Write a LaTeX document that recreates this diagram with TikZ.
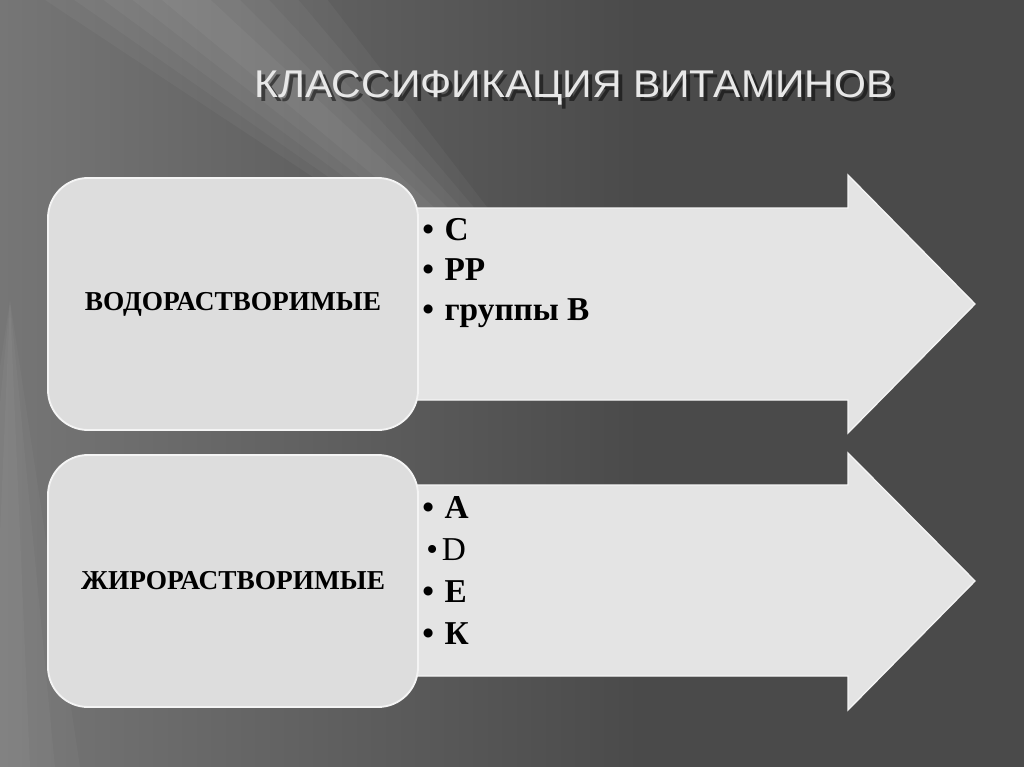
\documentclass[tikz,border=0pt]{standalone}
\usepackage{fontspec}
\setmainfont{Liberation Serif}
\newfontfamily\titlefont{Liberation Sans}
\definecolor{bgdark}{HTML}{4A4A4A}
\definecolor{bgmid}{HTML}{767676}
\definecolor{boxfill}{HTML}{DDDDDD}
\definecolor{arrowfill}{HTML}{E4E4E4}
\definecolor{rimwhite}{HTML}{F4F4F4}
\tikzset{
  catbox/.style={draw=rimwhite,line width=1.4pt,fill=boxfill,rounded corners=30pt,
    minimum width=277.5pt,minimum height=189pt,font=\bfseries\fontsize{20.5}{24}\selectfont},
  arrowbody/.style={fill=arrowfill,draw=rimwhite,line width=1pt},
  item/.style={anchor=base west,inner sep=0pt,font=\bfseries\fontsize{25}{28}\selectfont},
  titletext/.style={font=\titlefont\fontsize{29}{34}\selectfont,xscale=1.06}
}
\newcommand{\bul}{\textbullet\hspace{8pt}}
\begin{document}
\begin{tikzpicture}[x=0.75pt,y=-0.75pt]
  \useasboundingbox (0,0) rectangle (1024,767);
  % background
  \fill[bgdark] (0,0) rectangle (1024,767);
  \shade[left color=bgmid,right color=bgdark] (0,0) rectangle (640,767);
  \foreach \w in {25,55,85,115,145}
    \fill[white,opacity=0.04] (175-\w,-10) -- (175+\w,-10) -- (620,380) -- cycle;
  \foreach \w in {20,45,70}
    \fill[white,opacity=0.03] (10,300) -- (10+\w,767) -- (10-\w,767) -- cycle;
  % title with shadow
  \node[titletext,text=black,opacity=0.5] at (578,92) {КЛАССИФИКАЦИЯ ВИТАМИНОВ};
  \node[titletext,text=rimwhite!90!gray] (title) at (574,88) {КЛАССИФИКАЦИЯ ВИТАМИНОВ};
  % arrows
  \draw[arrowbody] (400,208) -- (848,208) -- (848,175) -- (975,304) -- (848,433) -- (848,400) -- (400,400) -- cycle;
  \draw[arrowbody] (400,485) -- (848,485) -- (848,453) -- (975,581) -- (848,710) -- (848,676) -- (400,676) -- cycle;
  % categories
  \node[catbox] (water) at (233,304) {ВОДОРАСТВОРИМЫЕ};
  \node[catbox] (fat) at (233,581) {ЖИРОРАСТВОРИМЫЕ};
  % vitamins
  \node[item] (vc) at (422,240) {\bul С};
  \node[item] (vpp) at (422,280) {\bul РР};
  \node[item] (vb) at (422,320) {\bul группы В};
  \node[item] (va) at (422,518) {\bul А};
  \node[item,font=\fontsize{25}{28}\selectfont] (vd) at (426,560) {\textbullet\hspace{3pt}D};
  \node[item] (ve) at (422,602) {\bul Е};
  \node[item] (vk) at (422,644) {\bul К};
\end{tikzpicture}
\end{document}
